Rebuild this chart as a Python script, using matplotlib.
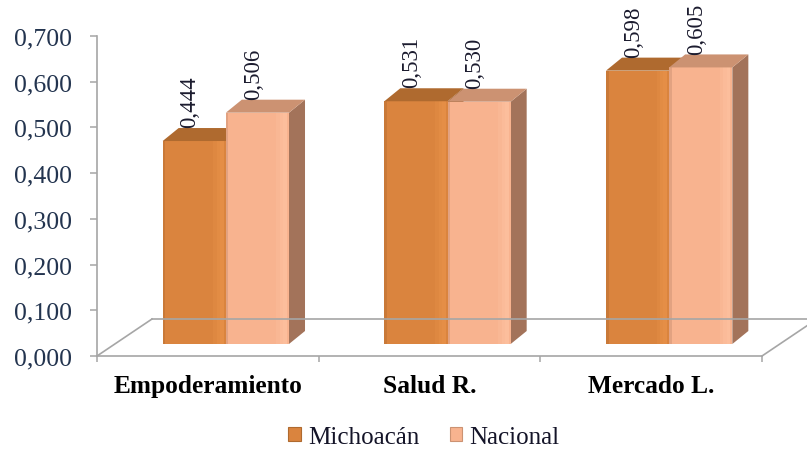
import matplotlib
matplotlib.use("Agg")
import matplotlib.pyplot as plt
from matplotlib.patches import Polygon, Rectangle, Patch
from matplotlib.lines import Line2D
from matplotlib.transforms import ScaledTranslation
import numpy as np

categories = ["Empoderamiento", "Salud R.", "Mercado L."]
michoacan = [0.444, 0.531, 0.598]
nacional = [0.506, 0.530, 0.605]
series_names = ["Michoacán", "Nacional"]
y_ticks = [0.0, 0.1, 0.2, 0.3, 0.4, 0.5, 0.6, 0.7]

# face colours: front, highlight, top, side
styles = {
    "Michoacán": ("#DA843E", "#EC944C", "#AF6A2F", "#9A5C2A"),
    "Nacional": ("#F8B38F", "#FFC5A3", "#CC9272", "#A3735A"),
}

plt.rcParams["font.family"] = ["Liberation Serif", "DejaVu Serif"]

W, H, DPI = 807, 452, 100
fig = plt.figure(figsize=(W / DPI, H / DPI), dpi=DPI)
ax = fig.add_axes([97 / W, 95 / H, 665 / W, 320 / H])
ax.patch.set_visible(False)
ax.set_xlim(-0.5, len(categories) - 0.5)
ax.set_ylim(0, 0.7)

axis_grey = "#A6A6A6"
for s in ["top", "right"]:
    ax.spines[s].set_visible(False)
for s in ["left", "bottom"]:
    ax.spines[s].set_color(axis_grey)
    ax.spines[s].set_linewidth(1.2)
ax.spines["left"].set_bounds(0, 0.7)

ax.set_yticks(y_ticks)
ax.set_yticklabels([f"{v:.3f}".replace(".", ",") for v in y_ticks],
                   fontsize=18.5, color="#23344F")
ax.tick_params(axis="y", direction="out", length=5, width=1.1,
               color=axis_grey, pad=13)

ax.set_xticks(range(len(categories)))
ax.set_xticklabels(categories, fontsize=18.3, fontweight="bold", color="black")
ax.tick_params(axis="x", length=0, pad=13)
ax.set_xticks(np.arange(-0.5, len(categories)), minor=True)
ax.tick_params(axis="x", which="minor", direction="out", length=4,
               width=1.1, color=axis_grey)

# floor of the 3-D box: depth vector in pixels
floor_dx, floor_dy = 55, 37
fig.canvas.draw()
pix = fig.transFigure.inverted()


def floor_point(ax_x):
    p0 = ax.transAxes.transform((ax_x, 0))
    return p0, p0 + np.array([floor_dx, floor_dy])


def fig_line(a, b):
    fa, fb = pix.transform(a), pix.transform(b)
    fig.add_artist(Line2D([fa[0], fb[0]], [fa[1], fb[1]], transform=fig.transFigure,
                          color=axis_grey, lw=1.2, zorder=0.5))


fl_front, fl_back = floor_point(0)
fr_front, fr_back = floor_point(1)
fig_line(fl_front, fl_back)
fig_line(fr_front, fr_back)
fig_line(fl_back, fr_back)

# bars sit one third of the way into the floor
bar_off = ScaledTranslation(18 / DPI, 12 / DPI, fig.dpi_scale_trans)
bt = ax.transData + bar_off

# bar depth converted from pixels to data units
inv = ax.transData.inverted()
o = ax.transData.transform((0, 0))
ddx, ddy = inv.transform(o + np.array([16, 13])) - inv.transform(o)

width = 0.285
x = np.arange(len(categories))
for k, (name, vals) in enumerate(zip(series_names, [michoacan, nacional])):
    front, hi, top, side = styles[name]
    xs = x + (k - 0.5) * width
    bars = ax.bar(xs, vals, width, color=front, edgecolor="none", zorder=3 + k)
    for b in bars:
        b.set_transform(bt)
        b.set_clip_on(False)
    for xc, v in zip(xs, vals):
        x0, x1 = xc - width / 2, xc + width / 2
        ax.add_patch(Polygon([(x1, 0), (x1 + ddx, ddy), (x1 + ddx, v + ddy), (x1, v)],
                             closed=True, facecolor=side, edgecolor="none",
                             transform=bt, clip_on=False, zorder=2.9 + k))
        ax.add_patch(Polygon([(x0, v), (x1, v), (x1 + ddx, v + ddy), (x0 + ddx, v + ddy)],
                             closed=True, facecolor=top, edgecolor="none",
                             transform=bt, clip_on=False, zorder=3.1 + k))
        # soft bevel shading on the front face
        for frac, a in ((0.20, 0.25), (0.14, 0.35), (0.09, 0.3)):
            ax.add_patch(Rectangle((x1 - width * frac, 0), width * (frac - 0.03), v,
                                   facecolor=hi, edgecolor="none", alpha=a,
                                   transform=bt, clip_on=False, zorder=3.05 + k))
        ax.add_patch(Rectangle((x0, 0), width * 0.04, v,
                               facecolor=side, edgecolor="none", alpha=0.25,
                               transform=bt, clip_on=False, zorder=3.05 + k))
        ax.annotate(f"{v:.3f}".replace(".", ","), xy=(xc, v), xycoords=bt,
                    xytext=(-3, 10), textcoords="offset points", rotation=90,
                    ha="center", va="bottom", fontsize=16.5, color="#1B1B2E",
                    annotation_clip=False, zorder=10)

handles = [Patch(facecolor=styles[n][0], edgecolor=styles[n][2], linewidth=0.8)
           for n in series_names]
fig.legend(handles, series_names, loc="center", bbox_to_anchor=(424 / W, 1 - 438 / H),
           ncol=2, frameon=False, fontsize=18, handlelength=0.5, handleheight=0.5,
           handletextpad=0.3, columnspacing=1.2, labelcolor="#141428")

fig.savefig("out.png", dpi=DPI)
